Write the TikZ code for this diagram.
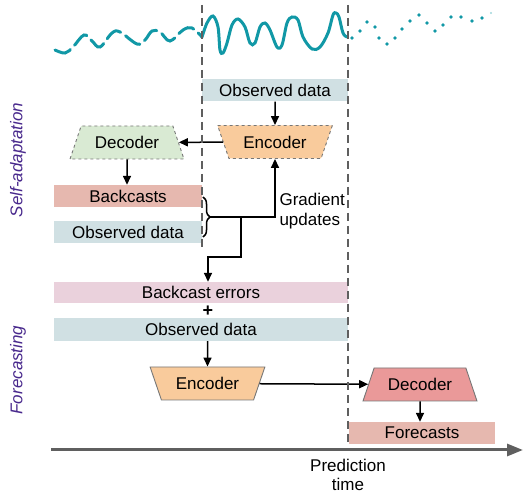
\documentclass[tikz,border=0pt]{standalone}
\usepackage{fontspec}
\setmainfont{Liberation Sans}
\usetikzlibrary{arrows.meta,shapes.geometric,decorations.pathreplacing}
\definecolor{waveTeal}{RGB}{17,152,166}
\definecolor{obsBlue}{RGB}{208,224,227}
\definecolor{backRose}{RGB}{230,184,175}
\definecolor{errPink}{RGB}{234,209,220}
\definecolor{encOrange}{RGB}{249,203,156}
\definecolor{decGreen}{RGB}{217,234,211}
\definecolor{decRed}{RGB}{234,153,153}
\definecolor{lineGray}{RGB}{95,95,95}
\definecolor{phasePurple}{RGB}{72,40,140}
\tikzset{
  databar/.style={fill=#1,inner sep=0pt,minimum height=22pt},
  coder/.style={trapezium,trapezium left angle=63.4,trapezium right angle=63.4,
    trapezium stretches=true,minimum width=115pt,minimum height=33pt,
    inner sep=2pt,fill=#1,draw=lineGray!85,line width=0.9pt},
  flow/.style={draw,line width=1.5pt,-{Triangle[length=9pt,width=8pt]}},
  cutline/.style={lineGray,line width=1.6pt,dash pattern=on 8pt off 5pt},
  phase/.style={rotate=90,font=\fontsize{17}{20}\selectfont\itshape,text=phasePurple}
}

\begin{document}
\begin{tikzpicture}[x=1pt,y=-1pt,font=\fontsize{17}{20}\selectfont]
\useasboundingbox (0,0) rectangle (523,494);

% the series
\draw[waveTeal,line width=3pt,line cap=round,dash pattern=on 17pt off 6pt]
  plot[smooth,tension=0.6] coordinates {(55,50) (65,53) (73,47) (84,35) (92,41) (100,47) (112,33)
  (120,32) (137,44) (145,40) (152,31) (160,32) (170,41) (183,30) (192,28) (202,37)};
\draw[waveTeal,line width=3pt,line cap=round]
  plot[smooth,tension=0.55] coordinates {(202,37) (207,23) (213,16) (218,27) (220,50) (223,53) (227,43)
  (232,25) (238,19) (245,27) (250,43) (255,43) (260,27) (265,23) (270,30) (277,47) (282,45) (287,23)
  (292,17) (298,20) (303,37) (312,49) (320,47) (328,33) (333,15) (336,13) (339,17) (343,33) (347,37)};
\foreach \px/\py in {352/38,360/31,367/22,375/27,379/38,387/44,395/38,402/29,410/21,419/15,
  427/23,435/31,443/25,451/17,461/17,472/21,482/18}
  \fill[waveTeal] (\px,\py) circle (1.8pt);
\fill[waveTeal!40] (491,13) circle (1.2pt);

% self-adaptation
\node[databar=obsBlue,minimum width=146pt] (obsA) at (275,90.5) {Observed data};
\node[coder=encOrange,shape border rotate=180,dashed] (encA) at (275,142) {Encoder};
\node[coder=decGreen,dashed] (decA) at (127,142.5) {Decoder};
\node[databar=backRose,minimum width=148pt] (back) at (128,196) {Backcasts};
\node[databar=obsBlue,minimum width=148pt] (obsB) at (128,232) {Observed data};
\node[anchor=west,align=left] (grad) at (276,211) {Gradient\\updates};

\draw[flow] (obsA) -- (encA);
\draw[flow] (encA) -- (decA);
\draw[flow] (decA) -- (decA |- back.north);
\draw[decorate,decoration={brace,amplitude=7pt},line width=1.5pt] (203,197) -- (203,237);
\coordinate (tip) at (210,217);
\coordinate (split) at (241,217);
\coordinate (drop) at (208,257);
\draw[flow] (tip) -| (encA);

% forecasting
\node[databar=errPink,minimum width=294pt,minimum height=21pt] (errs) at (201,292.5) {Backcast errors};
\node[font=\fontsize{18}{18}\selectfont\bfseries] (plus) at (208,311) {+};
\node[databar=obsBlue,minimum width=294pt,minimum height=23pt] (obsC) at (201,329.5) {Observed data};
\node[coder=encOrange,shape border rotate=180] (encB) at (207.5,383.5) {Encoder};
\node[coder=decRed] (decB) at (420,384.5) {Decoder};
\node[databar=backRose,minimum width=146pt] (fcst) at (422,433) {Forecasts};

\draw[flow] (split) |- (drop) -- (drop |- errs.north);
\draw[flow] (obsC.south -| encB) -- (encB);
\draw[flow] (encB) -- (decB);
\draw[flow] (decB) -- (decB |- fcst.north);

% time cuts and axis
\draw[cutline] (202,5) -- (202,247);
\draw[cutline] (348,5) -- (348,445);
\draw[lineGray,line width=3pt,-{Triangle[length=16pt,width=12pt]}] (51,450) -- (523,450);
\node[align=center,font=\fontsize{17}{19.5}\selectfont] (now) at (348,475) {Prediction\\time};

\node[phase] (selfad) at (18,160) {Self-adaptation};
\node[phase] (fore) at (18,370) {Forecasting};
\end{tikzpicture}
\end{document}
